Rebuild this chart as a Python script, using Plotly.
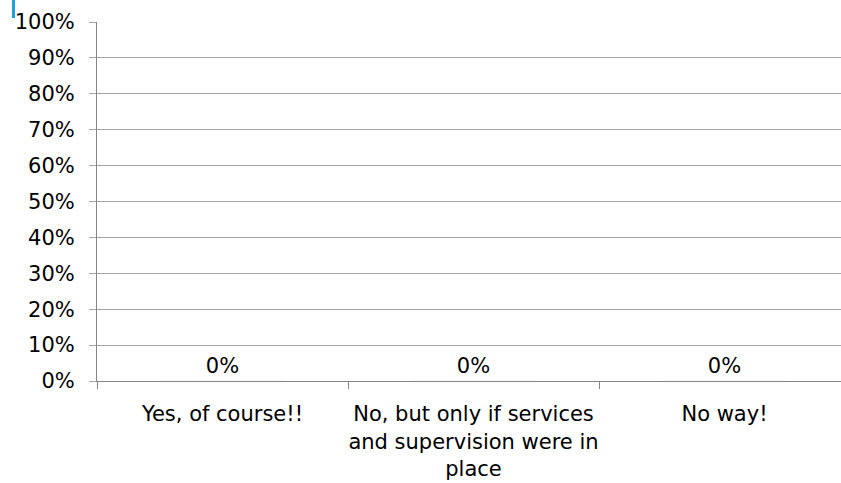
import plotly.graph_objects as go

# Survey answers and the share of respondents for each
categories = [
    "Yes, of course!!",
    "No, but only if services<br>and supervision were in<br>place",
    "No way!",
]
shares = [0.0, 0.0, 0.0]
share_labels = ["0%", "0%", "0%"]

FONT = "DejaVu Sans"
FS = 21
W, H = 841, 483
ML, MR, MT, MB = 97, 0, 22, 102

fig = go.Figure(
    go.Bar(
        x=categories,
        y=shares,
        text=share_labels,
        textposition="outside",
        textfont=dict(family=FONT, size=FS, color="#000000"),
        cliponaxis=False,
        marker_color="#4F81BD",
        hoverinfo="skip",
    )
)

# each category slot is this many pixels wide; the last slot is cut at the page edge
slot_px = 251.0
plot_px = W - ML - MR
x_end = -0.5 + plot_px / slot_px

fig.update_layout(
    width=W,
    height=H,
    margin=dict(l=ML, r=MR, t=MT, b=MB, pad=0, autoexpand=False),
    paper_bgcolor="white",
    plot_bgcolor="white",
    showlegend=False,
    font=dict(family=FONT, size=FS, color="#000000"),
    bargap=0.5,
)

fig.update_xaxes(
    type="category",
    range=[-0.5, x_end],
    tickson="boundaries",
    tickangle=0,
    automargin=False,
    ticks="outside",
    ticklen=7,
    tickcolor="#868686",
    tickwidth=1,
    showline=True,
    linecolor="#868686",
    linewidth=1,
    showgrid=False,
    ticklabelstandoff=14,
    tickfont=dict(family=FONT, size=FS, color="#000000"),
)

fig.update_yaxes(
    range=[0, 1],
    dtick=0.1,
    tickformat=".0%",
    automargin=False,
    ticks="outside",
    ticklen=7,
    tickcolor="#A6A6A6",
    showline=True,
    linecolor="#868686",
    linewidth=1,
    showgrid=True,
    gridcolor="#A6A6A6",
    gridwidth=1,
    zeroline=False,
    ticklabelstandoff=10,
    tickfont=dict(family=FONT, size=FS, color="#000000"),
)

# small blue accent in the top-left corner
fig.add_shape(
    type="rect",
    xref="paper",
    yref="paper",
    x0=(12 - ML) / plot_px,
    x1=(15 - ML) / plot_px,
    y0=1 + (MT - 18) / (H - MT - MB),
    y1=1 + MT / (H - MT - MB),
    fillcolor="#1BA1E2",
    line_width=0,
    layer="above",
)

fig.write_html("out.html")
